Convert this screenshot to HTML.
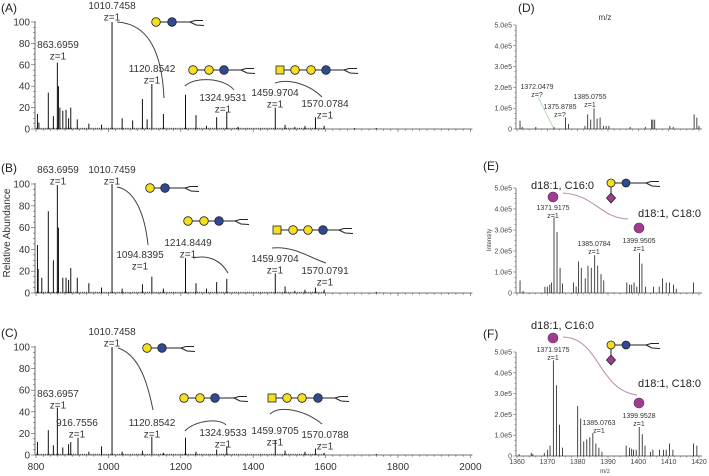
<!DOCTYPE html>
<html><head><meta charset="utf-8"><style>
html,body{margin:0;padding:0;background:#fff;}
svg{display:block;font-family:"Liberation Sans",Arial,sans-serif;}
</style></head><body>
<svg id="fig" width="709" height="476" viewBox="0 0 709 476" xmlns="http://www.w3.org/2000/svg"></svg>
<script>
// ---------- data ----------
const leftTicks = [800,1000,1200,1400,1600,1800,2000];
const leftYTicks = [0,20,40,60,80,100];
const rightXTicks = [1360,1370,1380,1390,1400,1410,1420];
const rightYTicks = [0,1,2,3,4,5];
const rightYLabels = ["0","1.0e5","2.0e5","3.0e5","4.0e5","5.0e5"];

const mzA = [804,808,834,848,859,862,866,874,883,890,896,914,946,981,1010,1038,1067,1094,1107,1120,1152,1213,1242,1271,1299,1327,1358,1461,1488,1515,1543,1572,1596,1680,1740];
const intA = [14,6,34,12,62,40,20,17,18,10,20,9,5,4,100,10,8,28,9,42,14,32,13,3,11,16,2,20,4,2,3,11,3,1,1];

const mzB = [804,806,816,834,848,859,862,874,883,890,896,914,946,981,1010,1038,1094,1120,1152,1213,1242,1271,1299,1327,1461,1488,1515,1543,1572,1596,1740];
const intB = [44,22,14,75,30,99,60,14,14,12,23,14,9,5,100,4,8,15,4,32,9,4,10,13,18,6,2,3,5,3,1];

const mzC = [804,834,848,859,874,890,896,916,946,981,1010,1038,1094,1120,1152,1213,1242,1299,1327,1461,1488,1543,1572,1596,1740];
const intC = [12,23,9,44,7,10,12,16,3,8,100,3,4,17,2,16,3,5,8,14,4,3,6,2,1];

const mzD = [1361,1361.7,1366.2,1372.2,1376,1377,1382.4,1383.3,1384.3,1385.4,1386.4,1387.4,1388.5,1389.4,1390.3,1397.3,1402.3,1404.4,1404.8,1405.4,1410.4,1411.5,1418.4,1419.3,1420];
const intD = [0.4,0.1,0.1,0.1,0.55,0.25,0.15,0.7,0.45,1.0,0.5,0.55,0.15,0.15,0.15,0.1,0.1,0.45,0.45,0.45,0.15,0.1,0.7,0.55,0.15];

const mzE = [1361,1362,1369.2,1370,1370.8,1371.4,1372.2,1373.2,1374.2,1375,1378.6,1379.5,1380.3,1381.2,1382.5,1383.4,1384.5,1385.6,1386.6,1387.7,1388.6,1396.2,1397.1,1397.8,1398.6,1399.5,1400.4,1401.2,1402.4,1405,1406.9,1408,1409.2,1410.3,1411.6,1412.5,1418.2];
const intE = [0.6,0.1,0.3,0.3,0.4,0.5,3.6,2.9,1.2,0.45,0.5,0.3,1.5,1.2,0.7,1.3,1.2,1.8,1.3,0.9,0.6,0.5,0.4,0.4,0.5,0.3,1.9,1.4,0.3,0.3,0.3,0.7,0.5,0.5,0.4,0.2,0.5];

const mzF = [1360.7,1364.7,1365.2,1369,1370.1,1370.9,1372,1373,1374,1375,1380,1381,1382,1383,1384,1385,1386,1387,1388,1396,1397.1,1397.8,1398.4,1399.3,1400.3,1401.3,1402.2,1404,1404.8,1407,1408.3,1409.2,1410.3,1411.4,1418.2,1419.3];
const intF = [0.1,0.15,0.1,0.15,0.3,0.5,4.6,3.4,1.5,0.4,2.4,1.8,0.7,0.8,0.9,1.1,0.6,0.4,0.2,0.5,0.4,0.35,0.3,0.3,1.4,1.05,0.5,0.2,0.3,0.3,0.3,0.3,0.6,0.3,0.6,0.5];

// ---------- helpers ----------
const NS = "http://www.w3.org/2000/svg";
const svg = document.getElementById('fig');
function mk(tag, attrs, parent){
  const e = document.createElementNS(NS, tag);
  for (const k in attrs) e.setAttribute(k, attrs[k]);
  (parent||svg).appendChild(e);
  return e;
}
function txt(x,y,s,size,anchor,parent,fill){
  const t = mk('text',{x:x,y:y,'font-size':size,'text-anchor':anchor||'middle',fill:fill||'#222'},parent);
  t.textContent = s;
  return t;
}
const YEL="#f5df1e", BLU="#2f4a93", PUR="#9c3d90";

// left panel axis functions
const lx = mz => 36 + (mz-800)*0.362;
function leftPanel(name, y0, y100, mzs, ints, showLabels){
  const g = mk('g',{});
  
  
  const ly = v => y0 - (y0-y100)*v/100;
  // axes
  const ya = mk('line',{x1:35,y1:y100-1,x2:35,y2:y0,stroke:'#444','stroke-width':0.8},g);
  
  
  const xa = mk('line',{x1:35,y1:y0,x2:lx(2000)+2,y2:y0,stroke:'#444','stroke-width':0.8},g);
  
  
  for (let v=0; v<=100; v+=5){
    const major = v%20===0;
    mk('line',{x1:major?31:33,y1:ly(v),x2:35,y2:ly(v),stroke:'#555','stroke-width':0.6},g);
  }
  leftYTicks.forEach(v=>{
    const t = txt(30, ly(v)+3.5, String(v), 10, 'end', g, '#333');
    
    
  });
  for (let m=800; m<=2000; m+=20){
    const major = m%200===0;
    mk('line',{x1:lx(m),y1:y0,x2:lx(m),y2:y0+(major?3:1.8),stroke:'#555','stroke-width':0.6},g);
  }
  if (showLabels){
    leftTicks.forEach(m=>{
      const t = txt(lx(m), 470, String(m), 10, 'middle', g, '#333');
      
      
    });
  }
  // baseline grass
  for (let m=802; m<1600; m+=6){
    mk('line',{x1:lx(m),y1:y0,x2:lx(m),y2:y0-1.2,stroke:'#111','stroke-width':0.6},g);
  }
  mzs.forEach((m,i)=>{
    const b = mk('line',{x1:lx(m),y1:y0,x2:lx(m),y2:ly(ints[i]),stroke:'#111','stroke-width':1},g);
    
    
  });
  return g;
}

// right panel axis functions
const rx = mz => 517 + (mz-1360)*3.033;
function rightPanel(name, y0, y5, mzs, ints, showLabels){
  const g = mk('g',{});
  
  
  const ry = v => y0 - (y0-y5)*v/5;
  const ya = mk('line',{x1:516,y1:y5,x2:516,y2:y0,stroke:'#444','stroke-width':0.7},g);
  
  
  const xa = mk('line',{x1:516,y1:y0,x2:702,y2:y0,stroke:'#444','stroke-width':0.7},g);
  
  
  for (let v=0; v<=5.001; v+=0.25){
    const major = Math.abs(v-Math.round(v))<0.01;
    mk('line',{x1:major?513:514.5,y1:ry(v),x2:516,y2:ry(v),stroke:'#555','stroke-width':0.5},g);
  }
  rightYTicks.forEach((v,i)=>{
    const t = txt(512, ry(v)+2.5, rightYLabels[i], 7, 'end', g, '#444');
    
    
  });
  for (let m=1360; m<=1420; m+=2){
    mk('line',{x1:rx(m),y1:y0,x2:rx(m),y2:y0+(m%10===0?2.5:1.5),stroke:'#555','stroke-width':0.5},g);
  }
  if (showLabels){
    rightXTicks.forEach(m=>{
      const t = txt(rx(m), 464, String(m), 7, 'middle', g, '#444');
      
      
    });
  }
  mzs.forEach((m,i)=>{
    const b = mk('line',{x1:rx(m),y1:y0,x2:rx(m),y2:ry(ints[i]),stroke:'#333','stroke-width':0.9},g);
    
    
  });
  return g;
}

leftPanel('panel-a-spectrum', 129, 22, mzA, intA, false);
leftPanel('panel-b-spectrum', 293, 184, mzB, intB, false);
leftPanel('panel-c-spectrum', 455, 347, mzC, intC, true);
rightPanel('panel-d-spectrum', 129, 25, mzD, intD, false);
rightPanel('panel-e-spectrum', 293, 188, mzE, intE, false);
rightPanel('panel-f-spectrum', 456, 352, mzF, intF, true);

// ---------- labels & annotations ----------
function ann(x,y,a,b,size,name){
  const g = mk('g',{});
  
  
  txt(x,y,a,size,'middle',g,'#333');
  txt(x,y+size*1.15,b,size,'middle',g,'#333');
}
function curve(d,color,w){
  const p = mk('path',{d:d,fill:'none',stroke:color||'#444','stroke-width':w||1});
  
  
}
function glycan(items, y, tailEnd){
  const g = mk('g',{});
  
  
  const x0 = items[0][1], x1 = items[items.length-1][1];
  mk('line',{x1:x0,y1:y,x2:tailEnd-12,y2:y,stroke:'#222','stroke-width':1},g);
  mk('path',{d:`M${tailEnd-13},${y} L${tailEnd-8},${y-1.5} L${tailEnd},${y-1.5} M${tailEnd-13},${y} L${tailEnd-7},${y+3} L${tailEnd+1},${y+3.5}`,fill:'none',stroke:'#222','stroke-width':1},g);
  items.forEach(([type,x])=>{
    if(type==='sq') mk('rect',{x:x-4,y:y-4,width:8,height:8,fill:YEL,stroke:'#222','stroke-width':0.8},g);
    else mk('circle',{cx:x,cy:y,r:4.3,fill:type==='y'?YEL:BLU,stroke:'#222','stroke-width':0.8},g);
  });
}
function gang(x,y){
  const g = mk('g',{});
  
  
  mk('line',{x1:x,y1:y,x2:x,y2:y+15,stroke:'#222','stroke-width':1},g);
  mk('line',{x1:x,y1:y,x2:x+36,y2:y,stroke:'#222','stroke-width':1},g);
  mk('path',{d:`M${x+35},${y} L${x+40},${y-1.5} L${x+48},${y-1.5} M${x+35},${y} L${x+41},${y+3} L${x+49},${y+3.5}`,fill:'none',stroke:'#222','stroke-width':1},g);
  mk('circle',{cx:x,cy:y,r:4,fill:YEL,stroke:'#222','stroke-width':0.8},g);
  mk('circle',{cx:x+15,cy:y,r:4,fill:BLU,stroke:'#222','stroke-width':0.8},g);
  mk('path',{d:`M${x},${y+10} L${x+4.5},${y+15} L${x},${y+20} L${x-4.5},${y+15} Z`,fill:PUR,stroke:'#222','stroke-width':0.8},g);
}
function ceramide(x,y){
  const c = mk('circle',{cx:x,cy:y,r:5,fill:PUR,stroke:'#6a2a60','stroke-width':0.6});
  
  
}
function panelLabel(x,y,s){
  const t = txt(x,y,s,12,'start',null,'#222');
  
  
}

panelLabel(1,12,'(A)'); panelLabel(1,172,'(B)'); panelLabel(1,337,'(C)');
panelLabel(518,12,'(D)'); panelLabel(483,170,'(E)'); panelLabel(483,338,'(F)');

const yl = txt(0,0,'Relative Abundance',10,'middle',null,'#333');
yl.setAttribute('transform','translate(10,233) rotate(-90)');


const il = txt(0,0,'Intensity',6,'middle',null,'#444');
il.setAttribute('transform','translate(491,240) rotate(-90)');


const mzt = txt(605,20,'m/z',8,'middle',null,'#333');


const mzb = txt(605,473,'m/z',6,'middle',null,'#444');



// Panel A
ann(112,9,'1010.7458','z=1',10); ann(58,48,'863.6959','z=1',10);
ann(152,72,'1120.8542','z=1',10); ann(223,101,'1324.9531','z=1',10);
ann(275,96,'1459.9704','z=1',10); ann(325,107,'1570.0784','z=1',10);
curve('M117,22 C150,24 162,55 164,98');
curve('M185,86 C195,76 225,78 234,90');
curve('M275,83 C290,78 310,85 322,97');
glycan([['y',156],['b',172]],22,203);
glycan([['y',193],['y',209],['b',224]],70,254);
glycan([['sq',280],['y',295],['y',311],['b',326]],70,357);

// Panel B
ann(58,173,'863.6959','z=1',10); ann(112,173,'1010.7459','z=1',10);
ann(140,258,'1094.8395','z=1',10); ann(188,246,'1214.8449','z=1',10);
ann(275,262,'1459.9704','z=1',10); ann(325,274,'1570.0791','z=1',10);
curve('M117,187 C135,190 145,215 148,245');
curve('M193,258 C210,254 222,262 228,273');
curve('M272,248 C295,246 310,258 326,263');
glycan([['y',150],['b',165]],188,198);
glycan([['y',188],['y',204],['b',219]],221,248);
glycan([['sq',277],['y',293],['y',308],['b',323]],230,352);

// Panel C
ann(112,335,'1010.7458','z=1',10); ann(58,397,'863.6957','z=1',10);
ann(77,426,'916.7556','z=1',10); ann(152,426,'1120.8542','z=1',10);
ann(223,436,'1324.9533','z=1',10); ann(275,434,'1459.9705','z=1',10);
ann(325,438,'1570.0788','z=1',10);
curve('M118,348 C140,355 148,385 153,410');
curve('M185,431 C195,420 220,418 226,425');
curve('M270,414 C280,405 305,410 322,424');
glycan([['y',147],['b',162]],348,194);
glycan([['y',184],['y',200],['b',215]],398,247);
glycan([['sq',272],['y',287],['y',302],['b',318]],398,348);

// Panel D
ann(537,89,'1372.0479','z=?',7); ann(560,109,'1375.8785','z=?',7);
ann(590,99,'1385.0755','z=1',7);
curve('M538,97 L553,127','#9ccf9c',0.8);

// Panel E
let t;
t = txt(531,189,'d18:1, C16:0',11,'start',null,'#222');  
t = txt(638,217,'d18:1, C18:0',11,'start',null,'#222');  
ceramide(553,197); ceramide(639,228);
curve('M563,193 C595,195 600,218 628,219','#b98ab3',1);
ann(553,210,'1371.9175','z=1',7); ann(639,243,'1399.9505','z=1',7); ann(594,246,'1385.0784','z=1',7);
gang(611,183);

// Panel F
t = txt(531,329,'d18:1, C16:0',11,'start',null,'#222');  
t = txt(638,387,'d18:1, C18:0',11,'start',null,'#222');  
ceramide(553,338); ceramide(639,403);
curve('M563,337 C600,338 598,390 637,395','#b98ab3',1);
ann(553,352,'1371.9175','z=1',7); ann(639,418,'1399.9528','z=1',7); ann(599,425,'1385.0763','z=1',7);
gang(611,345);
</script>
</body></html>
